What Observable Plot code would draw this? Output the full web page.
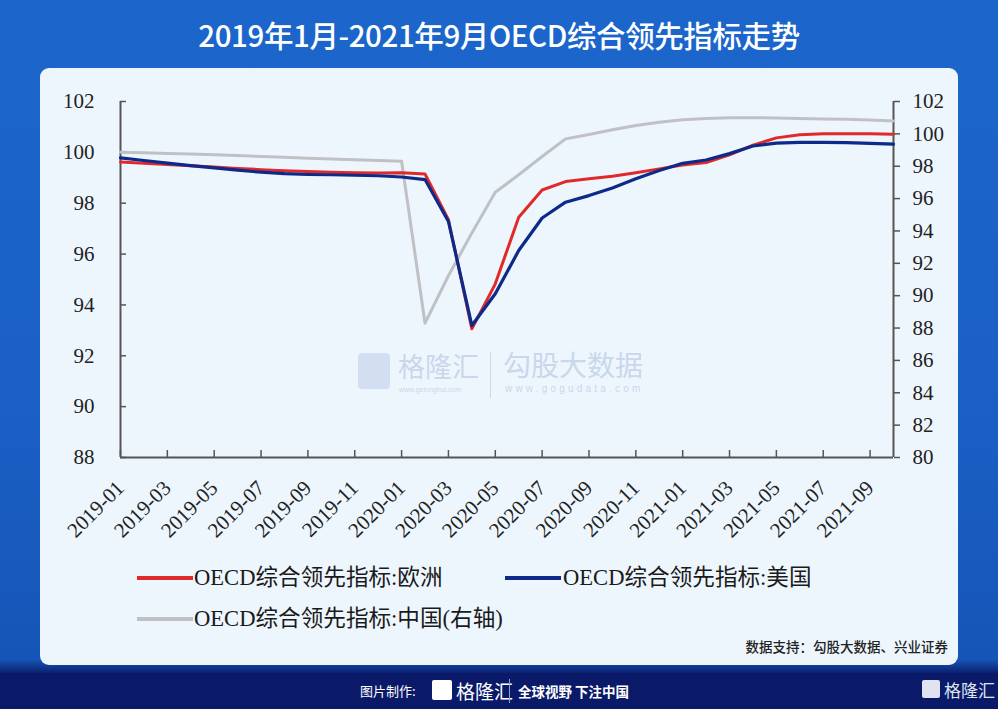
<!DOCTYPE html>
<html><head><meta charset="utf-8">
<script src="https://cdn.jsdelivr.net/npm/d3@7"></script>
<script src="https://cdn.jsdelivr.net/npm/@observablehq/plot@0.6"></script>
<style>
html,body{margin:0;padding:0;}
body{width:998px;height:709px;overflow:hidden;position:relative;font-family:'Noto Sans CJK SC',sans-serif;
 background:linear-gradient(180deg,#1c66cb 0%,#1a5fc4 60%,#1655b8 93%,#0b1d6c 95%,#0a1a68 100%);}
#title{position:absolute;left:0;top:13px;width:998px;text-align:center;color:#fff;font-size:29.5px;font-weight:500;letter-spacing:-0.4px;}
#panel{position:absolute;left:40px;top:68px;width:918px;height:597px;border-radius:9px;background:#eef6fd;}
#chart{position:absolute;left:40px;top:80px;}
.lg{position:absolute;height:4px;width:56px;}
.lt{position:absolute;font-family:'Liberation Serif','Noto Sans CJK SC',serif;font-size:22.6px;color:#1a1a1a;line-height:1;}
#src{position:absolute;right:50px;top:636px;font-size:13.5px;color:#222;font-weight:500;}
#foot{position:absolute;left:0;top:673px;width:998px;height:36px;background:#0a1a68;color:#fff;}
.wm{position:absolute;color:#c9d7ec;line-height:1;white-space:nowrap;}
</style></head>
<body>
<div id="title">2019年1月-2021年9月OECD综合领先指标走势</div>
<div id="panel"></div>
<div class="wm" style="left:358px;top:353px;width:32px;height:36px;border-radius:4px;background:#d3dff0;"></div>
<div class="wm" style="left:398px;top:352px;font-size:27px;">格隆汇</div>
<div class="wm" style="left:399px;top:386px;font-size:7px;font-family:sans-serif;">www.gelonghui.com</div>
<div class="wm" style="left:490px;top:352px;width:1px;height:46px;background:#c9d7ec;"></div>
<div class="wm" style="left:503px;top:350px;font-size:28px;">勾股大数据</div>
<div class="wm" style="left:505px;top:384px;font-size:10px;letter-spacing:3.2px;font-family:sans-serif;">www.gogudata.com</div>
<div id="chart"></div>
<div class="lg" style="left:137px;top:576px;background:#e02a2a;"></div>
<div class="lt" style="left:194px;top:567px;">OECD综合领先指标:欧洲</div>
<div class="lg" style="left:505px;top:576px;background:#0d2a8a;"></div>
<div class="lt" style="left:563px;top:567px;">OECD综合领先指标:美国</div>
<div class="lg" style="left:137px;top:617px;background:#bfc1c4;"></div>
<div class="lt" style="left:194px;top:608px;">OECD综合领先指标:中国(右轴)</div>
<div id="src">数据支持：勾股大数据、兴业证券</div>
<div id="foot">
 <div style="position:absolute;left:360px;top:8px;font-size:13px;">图片制作:</div>
 <div style="position:absolute;left:432px;top:7px;width:20px;height:20px;border-radius:2px;background:#fff;"></div>
 <div style="position:absolute;left:456px;top:4px;font-size:19px;">格隆汇</div>
 <div style="position:absolute;left:509px;top:6px;width:1px;height:24px;background:#8fa0d0;"></div>
 <div style="position:absolute;left:518px;top:8px;font-size:13.5px;font-weight:700;">全球视野 下注中国</div>
 <div style="position:absolute;left:922px;top:7px;width:18px;height:18px;border-radius:2px;background:#dfe4f0;"></div>
 <div style="position:absolute;left:944px;top:4px;font-size:17px;color:#dfe4f0;">格隆汇</div>
</div>
<script>
const months = ["2019-01","2019-02","2019-03","2019-04","2019-05","2019-06","2019-07","2019-08","2019-09","2019-10","2019-11","2019-12",
"2020-01","2020-02","2020-03","2020-04","2020-05","2020-06","2020-07","2020-08","2020-09","2020-10","2020-11","2020-12",
"2021-01","2021-02","2021-03","2021-04","2021-05","2021-06","2021-07","2021-08","2021-09","2021-10"];
const europe = [99.62,99.57,99.52,99.47,99.42,99.37,99.32,99.28,99.25,99.22,99.2,99.19,
99.2,99.15,97.35,93.06,94.83,97.45,98.52,98.85,98.96,99.06,99.2,99.35,
99.5,99.6,99.9,100.28,100.57,100.69,100.73,100.73,100.73,100.71];
const usa = [99.78,99.68,99.58,99.48,99.39,99.3,99.22,99.16,99.13,99.12,99.1,99.08,
99.03,98.93,97.28,93.19,94.44,96.14,97.42,98.04,98.3,98.6,98.96,99.29,
99.57,99.7,99.95,100.25,100.36,100.39,100.39,100.38,100.35,100.32];
const china = [98.87,98.83,98.79,98.75,98.71,98.66,98.6,98.55,98.5,98.45,98.4,98.36,
98.31,88.3,91.23,93.88,96.39,97.47,98.6,99.69,99.96,100.25,100.52,100.72,
100.87,100.95,101.0,101.0,100.98,100.95,100.92,100.9,100.85,100.8];
const leftTicks = [88,90,92,94,96,98,100,102];
const rightTicks = [80,82,84,86,88,90,92,94,96,98,100,102];
const xLabels = months.filter((d,i)=>i%2===0 && i<33);

const leftDomain = [88,102], rightDomain = [80,102];
const toLeft = v => leftDomain[0] + (v - rightDomain[0]) * (leftDomain[1]-leftDomain[0]) / (rightDomain[1]-rightDomain[0]);
const fromLeft = v => rightDomain[0] + (v - leftDomain[0]) * (rightDomain[1]-rightDomain[0]) / (leftDomain[1]-leftDomain[0]);

const rows = months.flatMap((m,i)=>[
  {m, v: europe[i], s: "eu"},
  {m, v: usa[i], s: "us"},
  {m, v: toLeft(china[i]), s: "cn"}
]);
const axisColor = "#555";
const chart = Plot.plot({
  width: 918, height: 480,
  marginLeft: 80, marginRight: 65, marginTop: 21, marginBottom: 103,
  x: {type: "point", domain: months, padding: 0, round: false, label: null},
  y: {domain: leftDomain, label: null},
  style: {background: "transparent", fontFamily: "'Liberation Serif', serif", fontSize: "21px", color: "#222"},
  marks: [
    Plot.axisY(leftTicks, {anchor: "left", tickSize: -6, text: null, label: null, stroke: axisColor, strokeWidth: 1.5}),
    Plot.axisY(leftTicks, {anchor: "left", tickSize: 0, tickPadding: 26, label: null, fill: "#222"}),
    Plot.axisY(rightTicks.map(toLeft), {anchor: "right", tickSize: 6, tickPadding: 13, tickFormat: d => Math.round(fromLeft(d)), label: null, stroke: axisColor, strokeWidth: 1.5, fill: "#222"}),
    Plot.axisX(xLabels, {tickSize: -7, text: null, label: null, stroke: axisColor, strokeWidth: 1.5}),
    Plot.axisX(xLabels, {tickSize: 0, tickRotate: -45, tickPadding: 27, label: null, fill: "#222"}),
    Plot.ruleY([leftDomain[0]], {stroke: axisColor, strokeWidth: 2}),
    Plot.ruleX([months[0], months[months.length-1]], {stroke: axisColor, strokeWidth: 2}),
    Plot.line(rows.filter(d=>d.s==="cn"), {x: "m", y: "v", stroke: "#bfc1c4", strokeWidth: 3}),
    Plot.line(rows.filter(d=>d.s==="eu"), {x: "m", y: "v", stroke: "#e02a2a", strokeWidth: 3}),
    Plot.line(rows.filter(d=>d.s==="us"), {x: "m", y: "v", stroke: "#0d2a8a", strokeWidth: 3.2})
  ]
});
document.getElementById("chart").appendChild(chart);
</script>
</body></html>
